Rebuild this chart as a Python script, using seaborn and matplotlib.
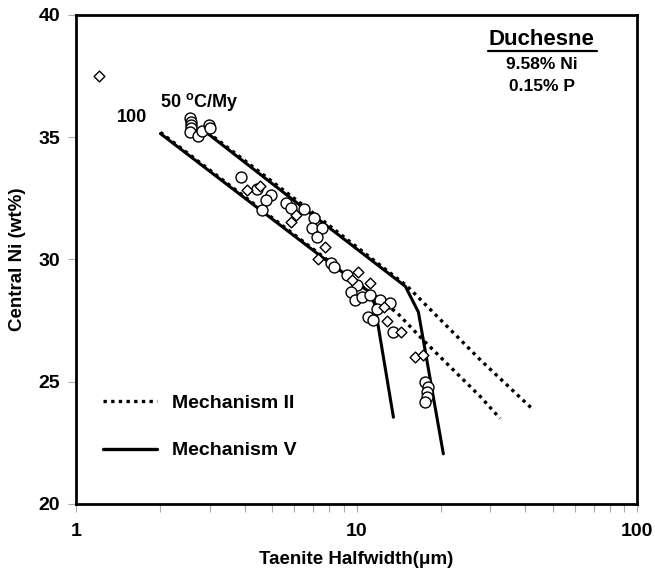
import numpy as np
import pandas as pd
import matplotlib
matplotlib.use('Agg')
import matplotlib.pyplot as plt
import seaborn as sns
from matplotlib.lines import Line2D
from matplotlib.ticker import FixedLocator, FixedFormatter, NullFormatter

sns.set_style('white')
plt.rcParams['font.family'] = ['Liberation Sans', 'DejaVu Sans']
plt.rcParams['font.weight'] = 'bold'
plt.rcParams['axes.labelweight'] = 'bold'
plt.rcParams['text.color'] = 'black'
plt.rcParams['axes.labelcolor'] = 'black'
plt.rcParams['mathtext.fontset'] = 'custom'
plt.rcParams['mathtext.rm'] = 'Liberation Sans:bold'
plt.rcParams['mathtext.bf'] = 'Liberation Sans:bold'

# ---------------- data ----------------
circle_x = [2.55, 2.57, 2.57, 2.57, 2.55, 2.72, 2.81, 2.97, 3.01,
            3.87, 4.41, 4.94, 4.75, 4.62, 5.59, 5.82, 6.48, 7.03, 6.96,
            7.55, 7.25, 8.08, 8.28, 9.27, 10.06, 9.52, 9.84, 10.50, 11.21,
            12.17, 13.21, 11.85, 11.03, 11.49, 13.54, 17.61, 18.04, 17.85,
            17.85, 17.61]
circle_y = [35.79, 35.64, 35.50, 35.37, 35.23, 35.05, 35.27, 35.50, 35.36,
            33.37, 32.88, 32.64, 32.43, 32.02, 32.31, 32.11, 32.07, 31.70, 31.29,
            31.29, 30.92, 29.86, 29.69, 29.37, 28.96, 28.67, 28.34, 28.48, 28.53,
            28.34, 28.22, 27.98, 27.66, 27.53, 27.03, 25.00, 24.80, 24.59,
            24.39, 24.18]

diamond_x = [1.21, 4.08, 4.52, 6.07, 5.82, 7.69, 7.32, 10.16, 9.65, 11.17,
             12.58, 12.86, 14.46, 16.22, 17.31]
diamond_y = [37.50, 32.84, 33.00, 31.82, 31.55, 30.52, 30.02, 29.50, 29.16, 29.04,
             28.04, 27.48, 27.03, 26.02, 26.09]

# Mechanism II (dotted) cooling-rate curves
mechII_50_x = [2.95, 6.32, 15.19, 27.6, 42.7]
mechII_50_y = [35.2, 32.3, 28.9, 25.9, 23.85]
mechII_100_x = [2.0, 7.63, 14.0, 17.3, 27.6, 32.5]
mechII_100_y = [35.2, 30.1, 27.8, 26.7, 24.4, 23.5]

# Mechanism V (solid) cooling-rate curves
mechV_50_x = [2.95, 6.32, 14.94, 16.62, 20.4]
mechV_50_y = [35.15, 32.2, 28.9, 27.85, 22.05]
mechV_100_x = [2.0, 7.63, 11.03, 11.59, 13.54]
mechV_100_y = [35.15, 30.05, 28.7, 28.2, 23.55]

x_ticks = [1, 10, 100]
x_tick_labels = ['1', '10', '100']
y_ticks = [20, 25, 30, 35, 40]

# ---------------- figure ----------------
fig = plt.figure(figsize=(6.55, 5.76), dpi=100)
ax = fig.add_axes([76/655, 1-504/576, 561/655, 489/576])
ax.set_xscale('log')

dotted = (0, (1, 1.3))
for xs, ys in [(mechII_50_x, mechII_50_y), (mechII_100_x, mechII_100_y)]:
    sns.lineplot(x=xs, y=ys, ax=ax, color='black', lw=2.4, linestyle=dotted,
                 sort=False, estimator=None, zorder=2)
for xs, ys in [(mechV_50_x, mechV_50_y), (mechV_100_x, mechV_100_y)]:
    sns.lineplot(x=xs, y=ys, ax=ax, color='black', lw=2.2,
                 sort=False, estimator=None, zorder=2)

sns.scatterplot(x=circle_x, y=circle_y, ax=ax, marker='o', s=62,
                facecolor='white', edgecolor='black', linewidth=1.0, zorder=3)
sns.scatterplot(x=diamond_x, y=diamond_y, ax=ax, marker='D', s=30,
                facecolor='white', edgecolor='black', linewidth=1.0, zorder=3)

ax.set_xlim(1, 100)
ax.set_ylim(20, 40)
ax.xaxis.set_major_locator(FixedLocator(x_ticks))
ax.xaxis.set_major_formatter(FixedFormatter(x_tick_labels))
ax.xaxis.set_minor_locator(FixedLocator([v * d for d in (1, 10) for v in range(2, 10)]))
ax.xaxis.set_minor_formatter(NullFormatter())
ax.set_yticks(y_ticks)

ax.tick_params(axis='both', which='both', direction='out', color='#aaaaaa',
               width=0.8, length=5.5, labelsize=14, labelcolor='black',
               bottom=True, left=True)
ax.tick_params(axis='x', pad=8)
ax.tick_params(axis='y', pad=6)

for s in ax.spines.values():
    s.set_color('black')
    s.set_linewidth(2.0)

ax.set_xlabel('Taenite Halfwidth(μm)', fontsize=13.5, labelpad=8)
ax.set_ylabel('Central Ni (wt%)', fontsize=13.5, labelpad=9)

# annotations
ax.text(0.83, 0.949, 'Duchesne', transform=ax.transAxes, ha='center', va='center',
        fontsize=16, fontweight='bold')
ax.plot([0.734, 0.929], [0.926, 0.926], transform=ax.transAxes, color='black', lw=1.6)
ax.text(0.83, 0.898, '9.58% Ni', transform=ax.transAxes, ha='center', va='center',
        fontsize=12.5, fontweight='bold')
ax.text(0.83, 0.853, '0.15% P', transform=ax.transAxes, ha='center', va='center',
        fontsize=12.5, fontweight='bold')
ax.text(1.99, 36.44, r'50 $^{\mathbf{o}}$C/My', ha='left', va='center', fontsize=13,
        fontweight='bold')
ax.text(1.58, 35.79, '100', ha='center', va='center', fontsize=13, fontweight='bold')

handles = [Line2D([], [], color='black', lw=2.4, linestyle=dotted),
           Line2D([], [], color='black', lw=2.4)]
ax.legend(handles, ['Mechanism II', 'Mechanism V'], loc='center left',
          bbox_to_anchor=(0.034, 0.158), borderaxespad=0, frameon=False,
          handlelength=2.8, handletextpad=0.75, labelspacing=1.55,
          prop={'weight': 'bold', 'size': 14})

fig.savefig('out.png', dpi=100)
